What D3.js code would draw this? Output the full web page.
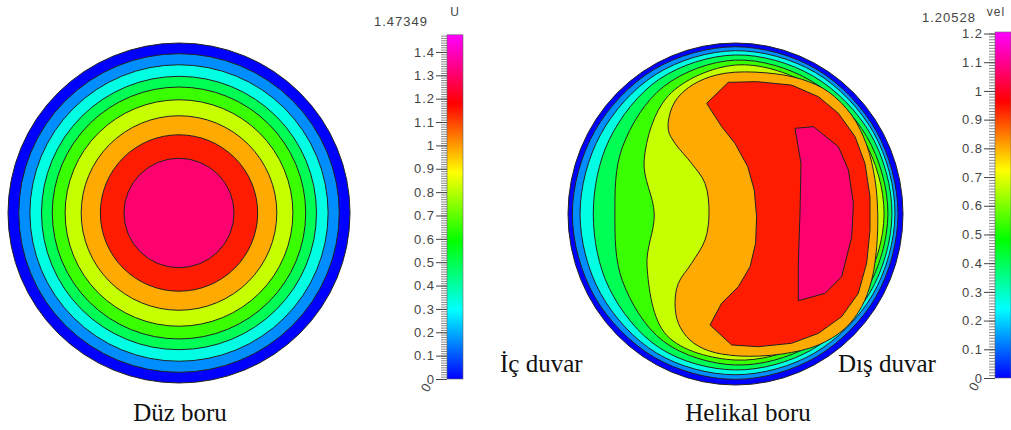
<!DOCTYPE html>
<html>
<head>
<meta charset="utf-8">
<script src="https://cdn.jsdelivr.net/npm/d3@7"></script>
<style>
  body { margin: 0; background: #fff; }
  svg { display: block; }
</style>
</head>
<body>
<svg id="chart" width="1011" height="430"></svg>
<script>
// ---------------- data ----------------
// Straight pipe: axial velocity U, maximum on the axis
const straightMax = 1.47349;
const straightLevels = [0.1637, 0.3274, 0.4911, 0.6549, 0.8186, 0.9823, 1.1460, 1.3098];
// radius of each iso-line, as a fraction of the pipe radius
const straightRadii = [0.937, 0.872, 0.804, 0.741, 0.666, 0.572, 0.460, 0.322];
const straightTicks = [0, 0.1, 0.2, 0.3, 0.4, 0.5, 0.6, 0.7, 0.8, 0.9, 1, 1.1, 1.2, 1.3, 1.4];

// Helical pipe: velocity magnitude "vel"
const helicalMax = 1.20528;
const helicalLevels = [0.1339, 0.2678, 0.4018, 0.5357, 0.6697, 0.8035, 0.9375, 1.0714];
const helicalTicks = [0, 0.1, 0.2, 0.3, 0.4, 0.5, 0.6, 0.7, 0.8, 0.9, 1, 1.1, 1.2];
// near-wall iso-lines, radius (fraction of pipe radius) at each polar angle (deg, 0 = outer wall)
const helicalAngles = [0, 30, 60, 90, 120, 150, 180, 210, 240, 270, 300, 330];
const helicalWallRadii = [
  [0.970, 0.970, 0.975, 0.978, 0.975, 0.970, 0.974, 0.970, 0.968, 0.967, 0.965, 0.968],
  [0.952, 0.952, 0.955, 0.955, 0.945, 0.930, 0.928, 0.930, 0.940, 0.940, 0.940, 0.945],
  [0.934, 0.932, 0.930, 0.930, 0.910, 0.870, 0.849, 0.870, 0.905, 0.912, 0.915, 0.925],
  [0.910, 0.905, 0.900, 0.900, 0.860, 0.780, 0.720, 0.780, 0.860, 0.883, 0.890, 0.900],
  [0.887, 0.880, 0.875, 0.871, 0.800, 0.630, 0.485, 0.610, 0.820, 0.854, 0.865, 0.875]
];
// core iso-lines as (x, y) in pipe radii, x toward the outer wall, y up
const helicalCore1 = [
  [-0.063, 0.823], [0.176, 0.826], [0.395, 0.788], [0.554, 0.715], [0.693, 0.579],
  [0.783, 0.404], [0.833, 0.199], [0.849, 0.004], [0.843, -0.191], [0.813, -0.386],
  [0.753, -0.542], [0.654, -0.669], [0.495, -0.766], [0.276, -0.819], [0.017, -0.830],
  [-0.162, -0.799], [-0.272, -0.737], [-0.341, -0.639], [-0.361, -0.522], [-0.341, -0.405],
  [-0.262, -0.288], [-0.182, -0.152], [-0.158, 0.004], [-0.182, 0.179], [-0.262, 0.296],
  [-0.361, 0.413], [-0.401, 0.491], [-0.385, 0.608], [-0.331, 0.696], [-0.222, 0.774]
];
const helicalCore2 = [
  [-0.172, 0.647], [-0.043, 0.770], [0.126, 0.774], [0.335, 0.754], [0.495, 0.686],
  [0.614, 0.589], [0.714, 0.452], [0.773, 0.296], [0.803, 0.101], [0.803, -0.094],
  [0.783, -0.288], [0.733, -0.464], [0.634, -0.600], [0.495, -0.698], [0.335, -0.756],
  [0.136, -0.776], [-0.023, -0.766], [-0.152, -0.649], [-0.083, -0.522], [0.017, -0.425],
  [0.087, -0.308], [0.120, -0.172], [0.126, -0.016], [0.112, 0.140], [0.073, 0.277],
  [-0.003, 0.413], [-0.083, 0.511]
];
const helicalCore3 = [
  [0.355, 0.501], [0.465, 0.511], [0.614, 0.394], [0.674, 0.257], [0.704, 0.062],
  [0.694, -0.133], [0.634, -0.366], [0.534, -0.464], [0.375, -0.507], [0.375, -0.288],
  [0.385, 0.004], [0.391, 0.296]
];

// colour map stops (fraction of the range) and colours
const rampStops = [0, 0.2, 0.4, 0.6, 0.8, 1];
const rampColors = ["#0000ff", "#00ffff", "#00ff00", "#ffff00", "#ff0000", "#ff00ff"];

// ---------------- drawing ----------------
const svg = d3.select("#chart");
const lineColor = "#222";

function colorScale(max) {
  return d3.scaleLinear().domain(rampStops.map(s => s * max)).range(rampColors).clamp(true);
}

// straight pipe
{
  const x = d3.scaleLinear().domain([-1, 1]).range([8, 350]);
  const y = d3.scaleLinear().domain([-1, 1]).range([383, 43]);
  const color = colorScale(straightMax);
  const g = svg.append("g");
  const rings = [{ r: 1, v: 0 }].concat(straightRadii.map((r, i) => ({ r, v: straightLevels[i] })));
  g.selectAll("ellipse").data(rings).join("ellipse")
    .attr("cx", x(0)).attr("cy", y(0))
    .attr("rx", d => x(d.r) - x(0)).attr("ry", d => y(0) - y(d.r))
    .attr("fill", d => color(d.v))
    .attr("stroke", lineColor).attr("stroke-width", 1);
}

// helical pipe
{
  const x = d3.scaleLinear().domain([-1, 1]).range([568, 903]);
  const y = d3.scaleLinear().domain([-1, 1]).range([385, 43]);
  const color = colorScale(helicalMax);
  const g = svg.append("g");
  g.append("ellipse")
    .attr("cx", x(0)).attr("cy", y(0))
    .attr("rx", x(1) - x(0)).attr("ry", y(0) - y(1))
    .attr("fill", color(0)).attr("stroke", lineColor).attr("stroke-width", 1);

  const toXY = radii => radii.map((r, i) => {
    const a = helicalAngles[i] * Math.PI / 180;
    return [r * Math.cos(a), r * Math.sin(a)];
  });
  const smooth = d3.line().x(d => x(d[0])).y(d => y(d[1])).curve(d3.curveCatmullRomClosed.alpha(0.5));
  const sharp = d3.line().x(d => x(d[0])).y(d => y(d[1])).curve(d3.curveLinearClosed);

  const shapes = helicalWallRadii.map((r, i) => ({ pts: toXY(r), v: helicalLevels[i], line: smooth }))
    .concat([
      { pts: helicalCore1, v: helicalLevels[5], line: smooth },
      { pts: helicalCore2, v: helicalLevels[6], line: sharp },
      { pts: helicalCore3, v: helicalLevels[7], line: sharp }
    ]);
  g.selectAll("path").data(shapes).join("path")
    .attr("d", d => d.line(d.pts))
    .attr("fill", d => color(d.v))
    .attr("stroke", lineColor).attr("stroke-width", 1)
    .attr("stroke-linejoin", "round");
}

// colour bars
function colorBar(id, max, ticks, x0, yBottom, yTop, maxLabel, name, maxLabelX, maxLabelY, nameX) {
  const y = d3.scaleLinear().domain([0, max]).range([yBottom, yTop]);
  const grad = svg.append("defs").append("linearGradient")
    .attr("id", id).attr("x1", 0).attr("y1", 1).attr("x2", 0).attr("y2", 0);
  grad.selectAll("stop").data(rampStops).join("stop")
    .attr("offset", d => d).attr("stop-color", (d, i) => rampColors[i]);
  const g = svg.append("g").attr("font-family", "Liberation Sans, Arial, sans-serif");
  g.append("rect")
    .attr("x", x0).attr("y", yTop).attr("width", 16).attr("height", yBottom - yTop)
    .attr("fill", `url(#${id})`).attr("stroke", "#666").attr("stroke-width", 0.6);

  // minor ticks
  const minor = g.append("g").attr("transform", `translate(${x0},0)`)
    .call(d3.axisLeft(y).ticks(140).tickSize(6).tickFormat(""));
  minor.select(".domain").remove();
  minor.selectAll("line").attr("stroke", "#555").attr("stroke-width", 0.7);

  // major ticks + labels
  const major = g.append("g").attr("transform", `translate(${x0},0)`)
    .call(d3.axisLeft(y).tickValues(ticks).tickSize(11).tickPadding(1)
      .tickFormat(d => String(+d.toFixed(1))));
  major.select(".domain").remove();
  major.selectAll("line").attr("stroke", "#444").attr("stroke-width", 1);
  major.selectAll("text").attr("font-size", 13).attr("fill", "#444")
    .attr("letter-spacing", "1px");

  // rotated zero under the bar
  g.append("text").attr("transform", `translate(${x0 - 19},${yBottom + 14}) rotate(-60)`)
    .attr("font-size", 13).attr("fill", "#444").text("0");

  g.append("text").attr("x", maxLabelX).attr("y", maxLabelY).attr("text-anchor", "end")
    .attr("font-size", 13).attr("fill", "#444").attr("letter-spacing", "1px").text(maxLabel);
  g.append("text").attr("x", nameX).attr("y", 16).attr("text-anchor", "middle")
    .attr("font-size", 12).attr("fill", "#444").attr("letter-spacing", "1px").text(name);
}
colorBar("barU", straightMax, straightTicks, 447, 379, 34.8, "1.47349", "U", 428, 26, 455);
colorBar("barVel", helicalMax, helicalTicks, 995, 378, 32, "1.20528", "vel", 976, 22, 996);

// captions
const cap = svg.append("g").attr("font-family", "Liberation Serif, Times New Roman, serif")
  .attr("font-size", 25).attr("fill", "#111");
cap.append("text").attr("x", 180).attr("y", 421).attr("text-anchor", "middle").text("Düz boru");
cap.append("text").attr("x", 748).attr("y", 421).attr("text-anchor", "middle").text("Helikal boru");
cap.append("text").attr("x", 500).attr("y", 372).text("İç duvar");
cap.append("text").attr("x", 838).attr("y", 372).text("Dış duvar");
</script>
</body>
</html>
